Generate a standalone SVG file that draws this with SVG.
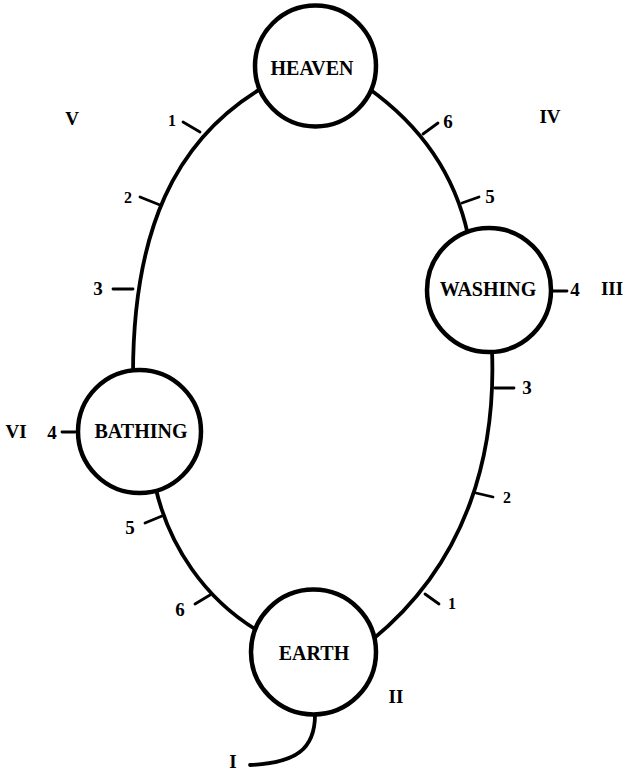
<svg xmlns="http://www.w3.org/2000/svg" width="625" height="771" viewBox="0 0 625 771">
<style>
.arc{fill:none;stroke:#000;stroke-width:3.8;stroke-linecap:round}
.tick{stroke:#000;stroke-width:2.8;stroke-linecap:round}
.node{fill:#fff;stroke:#000;stroke-width:4.5}
.lbl{font-family:"Liberation Serif","DejaVu Serif",serif;font-weight:bold;font-size:20px;text-anchor:middle;fill:#000}
.num{font-family:"Liberation Serif","DejaVu Serif",serif;font-weight:bold;font-size:19px;text-anchor:middle;fill:#000}
.sm{font-size:16px}
.rom{font-family:"Liberation Serif","DejaVu Serif",serif;font-weight:bold;font-size:19px;text-anchor:middle;fill:#000}
</style>
<rect width="625" height="771" fill="#fff"/>
<g id="connectors">
<path class="arc" d="M262,88 C175,140 133,230 133,375"/>
<path class="arc" d="M368,88 C420,125 455,175 468,235"/>
<path class="arc" d="M492,350 C496,450 470,560 372,640"/>
<path class="arc" d="M155,485 C168,545 205,600 260,632"/>
<path class="arc" d="M315,712 C316,750 295,763 250,765"/>
<line class="tick" x1="183" y1="122" x2="200" y2="132"/>
<line class="tick" x1="140" y1="197" x2="160" y2="205"/>
<line class="tick" x1="113" y1="289" x2="133" y2="289"/>
<line class="tick" x1="423" y1="134" x2="438" y2="123"/>
<line class="tick" x1="462" y1="203" x2="479" y2="197"/>
<line class="tick" x1="553" y1="291" x2="567" y2="291"/>
<line class="tick" x1="495" y1="388" x2="514" y2="388"/>
<line class="tick" x1="476" y1="493" x2="493" y2="497"/>
<line class="tick" x1="425" y1="594" x2="439" y2="604"/>
<line class="tick" x1="62" y1="432" x2="75" y2="432"/>
<line class="tick" x1="145" y1="523" x2="162" y2="516"/>
<line class="tick" x1="195" y1="604" x2="210" y2="595"/>
</g>
<g id="heaven">
<circle class="node" cx="315.5" cy="66" r="60.5"/>
<text class="lbl" x="312" y="75">HEAVEN</text>
</g>
<g id="washing">
<circle class="node" cx="489" cy="290" r="62"/>
<text class="lbl" x="488" y="296">WASHING</text>
</g>
<g id="bathing">
<circle class="node" cx="139.5" cy="431.5" r="61.5"/>
<text class="lbl" x="141" y="438">BATHING</text>
</g>
<g id="earth">
<circle class="node" cx="313.5" cy="652" r="62.5"/>
<text class="lbl" x="314" y="660">EARTH</text>
</g>
<g id="labels">
<text class="num sm" x="172" y="126">1</text>
<text class="num sm" x="128" y="203">2</text>
<text class="num" x="98" y="295">3</text>
<text class="num" x="448" y="128">6</text>
<text class="num" x="490" y="203">5</text>
<text class="num" x="575" y="296">4</text>
<text class="num" x="527" y="394">3</text>
<text class="num sm" x="507" y="503">2</text>
<text class="num sm" x="452" y="609">1</text>
<text class="num" x="52" y="439">4</text>
<text class="num" x="130" y="534">5</text>
<text class="num" x="180" y="616">6</text>
<text class="rom" x="72" y="125">V</text>
<text class="rom" x="550" y="123">IV</text>
<text class="rom" x="612" y="295">III</text>
<text class="rom" x="16" y="438">VI</text>
<text class="rom" x="396" y="703">II</text>
<text class="rom" x="233" y="768">I</text>
</g>
</svg>
